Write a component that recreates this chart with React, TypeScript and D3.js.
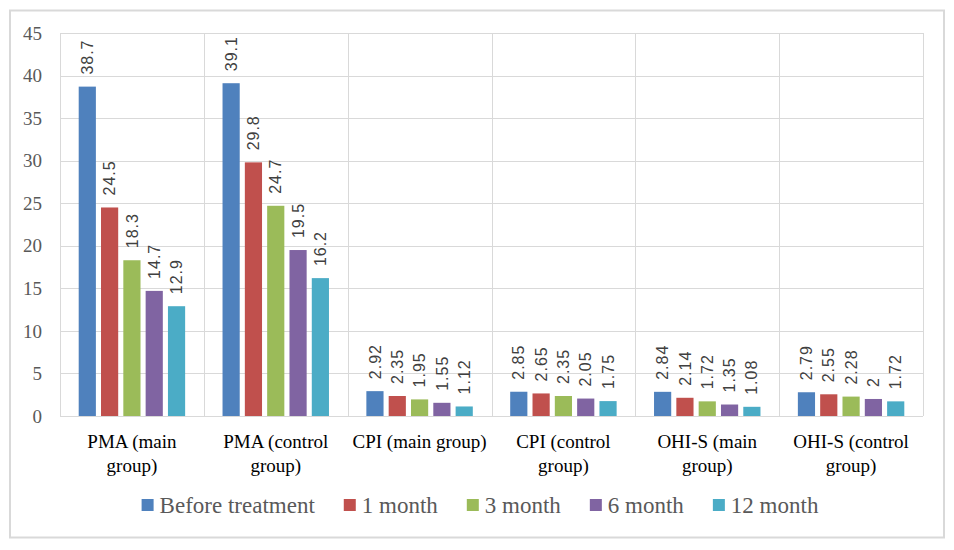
import React, { useEffect, useRef } from "react";
import * as d3 from "d3";

// categories (x axis groups)
const categories = [
  "PMA (main group)",
  "PMA (control group)",
  "CPI (main group)",
  "CPI (control group)",
  "OHI-S (main group)",
  "OHI-S (control group)",
];

// series names and colours
const seriesNames = ["Before treatment", "1 month", "3 month", "6 month", "12 month"];
const seriesColors = ["#4f81bd", "#c0504d", "#9bbb59", "#8064a2", "#4bacc6"];

// values per series, one per category
const beforeTreatment = [38.7, 39.1, 2.92, 2.85, 2.84, 2.79];
const month1 = [24.5, 29.8, 2.35, 2.65, 2.14, 2.55];
const month3 = [18.3, 24.7, 1.95, 2.35, 1.72, 2.28];
const month6 = [14.7, 19.5, 1.55, 2.05, 1.35, 2];
const month12 = [12.9, 16.2, 1.12, 1.75, 1.08, 1.72];

const yTicks = [0, 5, 10, 15, 20, 25, 30, 35, 40, 45];

const W = 954;
const H = 550;
const SERIF = "Liberation Serif, DejaVu Serif, serif";
const SANS = "Liberation Sans, Arial, sans-serif";

const App: React.FC = () => {
  const svgRef = useRef<SVGSVGElement>(null);

  useEffect(() => {
    if (!svgRef.current) return;
    const svg = d3.select(svgRef.current);
    svg.selectAll("*").remove();

    const series = [beforeTreatment, month1, month3, month6, month12];
    const margin = { left: 60, right: 31, top: 33, bottom: 134 };
    const plotW = W - margin.left - margin.right;
    const plotH = H - margin.top - margin.bottom;

    // outer frame
    svg
      .append("rect")
      .attr("x", 10)
      .attr("y", 10.5)
      .attr("width", 934)
      .attr("height", 527)
      .attr("fill", "#fff")
      .attr("stroke", "#d9d9d9")
      .attr("stroke-width", 2);

    const g = svg
      .append("g")
      .attr("transform", `translate(${margin.left},${margin.top})`);

    const x0 = d3.scaleBand<string>().domain(categories).range([0, plotW]);
    const bw = x0.bandwidth();
    const x1 = d3
      .scaleBand<number>()
      .domain(d3.range(seriesNames.length))
      .range([bw * 0.13, bw * 0.87])
      .paddingInner(0.23);
    const y = d3.scaleLinear().domain([0, 45]).range([plotH, 0]);

    // horizontal gridlines
    g.selectAll(".hgrid")
      .data(yTicks)
      .enter()
      .append("line")
      .attr("x1", 0)
      .attr("x2", plotW)
      .attr("y1", (d) => Math.round(y(d)) + 0.5)
      .attr("y2", (d) => Math.round(y(d)) + 0.5)
      .attr("stroke", "#d9d9d9")
      .attr("stroke-width", 1);

    // vertical gridlines between categories
    const vx = categories.map((c) => x0(c)!).concat([plotW]);
    g.selectAll(".vgrid")
      .data(vx)
      .enter()
      .append("line")
      .attr("x1", (d) => Math.round(d) + 0.5)
      .attr("x2", (d) => Math.round(d) + 0.5)
      .attr("y1", 0)
      .attr("y2", plotH)
      .attr("stroke", "#d9d9d9")
      .attr("stroke-width", 1);

    // y tick labels
    g.selectAll(".ytick")
      .data(yTicks)
      .enter()
      .append("text")
      .attr("x", -18)
      .attr("y", (d) => y(d))
      .attr("dy", "0.35em")
      .attr("text-anchor", "end")
      .attr("font-family", SERIF)
      .attr("font-size", 19)
      .attr("fill", "#595959")
      .text((d) => d);

    // bars
    const groups = g
      .selectAll(".cat")
      .data(categories)
      .enter()
      .append("g")
      .attr("transform", (c) => `translate(${x0(c)},0)`);

    groups.each(function (c, ci) {
      const grp = d3.select(this);
      series.forEach((vals, si) => {
        const v = vals[ci];
        const bx = x1(si)!;
        grp
          .append("rect")
          .attr("x", bx)
          .attr("y", y(v))
          .attr("width", x1.bandwidth())
          .attr("height", plotH - y(v))
          .attr("fill", seriesColors[si]);
        const cx = bx + x1.bandwidth() / 2;
        grp
          .append("text")
          .attr("transform", `translate(${cx},${y(v) - 12}) rotate(-90)`)
          .attr("dy", "0.35em")
          .attr("text-anchor", "start")
          .attr("font-family", SANS)
          .attr("font-size", 16)
          .attr("letter-spacing", 1)
          .attr("fill", "#404040")
          .text(String(v));
      });
    });

    // category labels, wrapped to band width
    const maxW = bw - 2;
    groups.each(function (c) {
      const grp = d3.select(this);
      const t = grp
        .append("text")
        .attr("text-anchor", "middle")
        .attr("font-family", SERIF)
        .attr("font-size", 19)
        .attr("fill", "#000");
      const words = c.split(" ");
      const lines: string[] = [];
      let cur = "";
      const probe = t.append("tspan");
      words.forEach((w) => {
        const test = cur ? cur + " " + w : w;
        probe.text(test);
        if ((probe.node() as SVGTSpanElement).getComputedTextLength() > maxW && cur) {
          lines.push(cur);
          cur = w;
        } else {
          cur = test;
        }
      });
      lines.push(cur);
      probe.remove();
      lines.forEach((ln, i) => {
        t.append("tspan")
          .attr("x", bw / 2)
          .attr("y", plotH + 25 + i * 24)
          .attr("dy", "0.35em")
          .text(ln);
      });
    });

    // legend
    const legend = svg.append("g");
    let lx = 0;
    seriesNames.forEach((name, i) => {
      const it = legend.append("g");
      it.append("rect")
        .attr("x", 0)
        .attr("y", -6)
        .attr("width", 12)
        .attr("height", 12)
        .attr("fill", seriesColors[i]);
      const tx = it
        .append("text")
        .attr("x", 18)
        .attr("dy", "0.35em")
        .attr("font-family", SERIF)
        .attr("font-size", 23)
        .attr("fill", "#595959")
        .text(name);
      const tw = (tx.node() as SVGTextElement).getComputedTextLength();
      it.attr("transform", `translate(${lx},0)`);
      lx += 18 + tw + 29;
    });
    const totalW = lx - 29;
    legend.attr("transform", `translate(${480 - totalW / 2}, 505)`);
  }, []);

  return (
    <svg
      ref={svgRef}
      width={W}
      height={H}
      style={{ position: "absolute", left: 0, top: 0, background: "#fff" }}
    />
  );
};

export default App;
